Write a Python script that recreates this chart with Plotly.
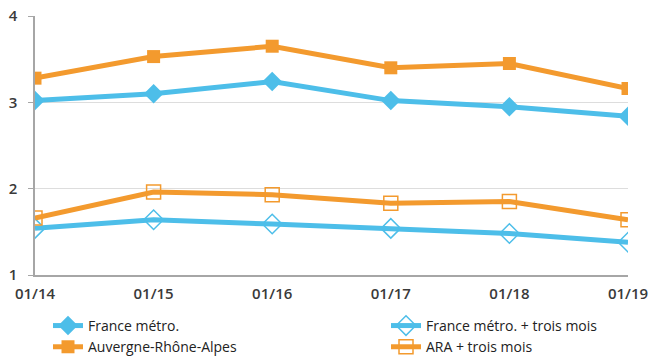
import plotly.graph_objects as go

categories = ["01/14", "01/15", "01/16", "01/17", "01/18", "01/19"]
france = [3.02, 3.10, 3.24, 3.02, 2.95, 2.84]
france_3m = [1.54, 1.64, 1.59, 1.54, 1.48, 1.38]
ara = [3.28, 3.53, 3.65, 3.40, 3.45, 3.16]
ara_3m = [1.66, 1.96, 1.93, 1.83, 1.85, 1.64]
yticks = [1, 2, 3, 4]

BLUE = "#4DBEE9"
ORANGE = "#F39A2E"
xs = list(range(len(categories)))

fig = go.Figure()
fig.add_trace(go.Scatter(x=xs, y=france, name="France métro.", mode="lines+markers",
                         line=dict(color=BLUE, width=5), legend="legend",
                         marker=dict(symbol="diamond", size=15, color=BLUE)))
fig.add_trace(go.Scatter(x=xs, y=france_3m, name="France métro. + trois mois", mode="lines+markers",
                         line=dict(color=BLUE, width=5), legend="legend2",
                         marker=dict(symbol="diamond-open", size=15, color=BLUE, line=dict(width=1.5))))
fig.add_trace(go.Scatter(x=xs, y=ara, name="Auvergne-Rhône-Alpes", mode="lines+markers",
                         line=dict(color=ORANGE, width=5), legend="legend",
                         marker=dict(symbol="square", size=13, color=ORANGE)))
fig.add_trace(go.Scatter(x=xs, y=ara_3m, name="ARA + trois mois", mode="lines+markers",
                         line=dict(color=ORANGE, width=5), legend="legend2",
                         marker=dict(symbol="square-open", size=14, color=ORANGE, line=dict(width=1.5))))

leg_common = dict(orientation="v", yanchor="top", xanchor="left", tracegroupgap=0,
                  font=dict(size=14, color="#222222"), bgcolor="rgba(0,0,0,0)")

tick_font = dict(family="Open Sans", size=15, color="#3A3A3A", weight=600)

fig.update_layout(
    width=661, height=359,
    margin=dict(l=35, r=33, t=16, b=84, autoexpand=False),
    paper_bgcolor="white", plot_bgcolor="white",
    font=dict(family="Open Sans", size=14, color="#333333"),
    showlegend=True,
    legend=dict(x=(48 - 35) / 593, y=-0.135, **leg_common),
    legend2=dict(x=(386 - 35) / 593, y=-0.135, **leg_common),
    xaxis=dict(tickmode="array", tickvals=xs, ticktext=categories, range=[0, 5],
               showgrid=False, showline=True, linecolor="#A6A6A6", linewidth=1.5,
               ticks="outside", ticklen=4, tickcolor="rgba(0,0,0,0)",
               tickfont=tick_font, zeroline=False),
    yaxis=dict(range=[1, 4], tickvals=yticks, showgrid=True, gridcolor="#DDDDDD",
               showline=True, linecolor="#A6A6A6", linewidth=1.5, ticks="outside",
               ticklen=5, tickcolor="#A6A6A6", tickfont=tick_font,
               ticklabelstandoff=8, zeroline=False),
)

fig.write_html("out.html")
